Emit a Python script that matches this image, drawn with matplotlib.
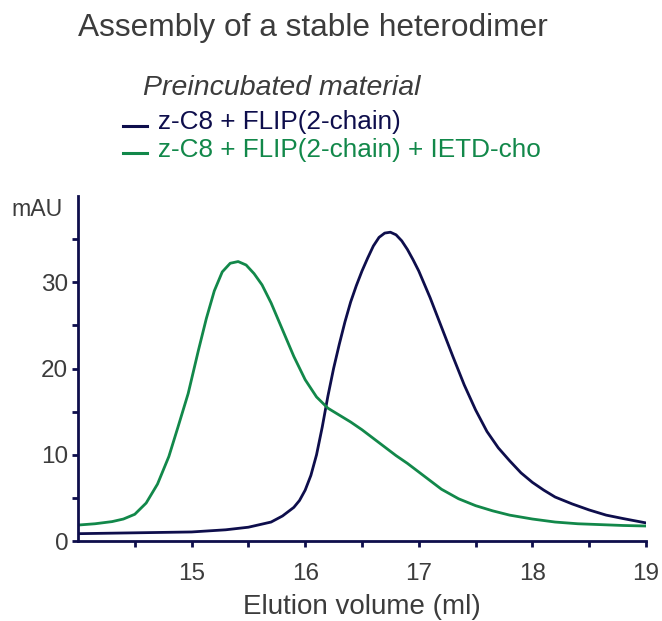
import matplotlib.pyplot as plt
import numpy as np

plt.rcParams['font.family'] = ['Liberation Sans', 'DejaVu Sans']

# elution volume (ml) / absorbance (mAU)
navy_x = [14.0, 14.5, 15.0, 15.3, 15.5, 15.7, 15.8, 15.9, 15.95, 16.0, 16.05, 16.1, 16.15,
          16.2, 16.25, 16.3, 16.35, 16.4, 16.45, 16.5, 16.55, 16.6, 16.65, 16.7, 16.75,
          16.8, 16.85, 16.9, 16.95, 17.0, 17.1, 17.2, 17.3, 17.4, 17.5, 17.6, 17.7,
          17.8, 17.9, 18.0, 18.1, 18.2, 18.35, 18.5, 18.65, 18.8, 19.0]
navy_y = [0.85, 0.95, 1.05, 1.3, 1.6, 2.2, 2.9, 3.9, 4.7, 5.9, 7.6, 10.0, 13.2,
          16.8, 20.0, 22.8, 25.4, 27.7, 29.6, 31.3, 32.8, 34.2, 35.2, 35.7, 35.8,
          35.5, 34.8, 33.8, 32.6, 31.3, 28.2, 24.8, 21.4, 18.1, 15.2, 12.7, 10.8,
          9.3, 7.9, 6.8, 5.9, 5.1, 4.3, 3.6, 3.0, 2.6, 2.1]

green_x = [14.0, 14.15, 14.3, 14.4, 14.5, 14.6, 14.7, 14.8, 14.88, 14.97, 15.06, 15.13,
           15.2, 15.27, 15.34, 15.41, 15.48, 15.55, 15.62, 15.7, 15.8, 15.9, 16.0, 16.1,
           16.2, 16.3, 16.4, 16.5, 16.6, 16.7, 16.8, 16.9, 17.0, 17.1, 17.2, 17.35,
           17.5, 17.65, 17.8, 18.0, 18.2, 18.4, 18.6, 18.8, 19.0]
green_y = [1.85, 2.0, 2.25, 2.55, 3.1, 4.4, 6.6, 9.8, 13.2, 17.1, 22.1, 25.8,
           29.0, 31.2, 32.2, 32.4, 32.0, 31.0, 29.7, 27.6, 24.5, 21.4, 18.7, 16.7,
           15.4, 14.6, 13.8, 12.9, 11.9, 10.9, 9.9, 9.0, 8.0, 7.0, 6.0, 4.9,
           4.1, 3.5, 3.0, 2.55, 2.2, 2.0, 1.9, 1.8, 1.74]

navy = '#0e0e4c'
green = '#12884a'
grey = '#3c3c3c'

fig = plt.figure(figsize=(6.62, 6.21), dpi=100)
ax = fig.add_axes((0.1178, 0.1288, 0.858, 0.5556))

ax.plot(navy_x, navy_y, color=navy, lw=2.0)
ax.plot(green_x, green_y, color=green, lw=2.0)

ax.set_xlim(14, 19)
ax.set_ylim(0, 40)
ax.set_xticks([15, 16, 17, 18, 19])
ax.set_xticks(np.arange(14.5, 19, 0.5), minor=True)
ax.set_yticks([0, 10, 20, 30])
ax.set_yticks([5, 15, 25, 35], minor=True)
for s in ['top', 'right']:
    ax.spines[s].set_visible(False)
for s in ['left', 'bottom']:
    ax.spines[s].set_color(navy)
    ax.spines[s].set_linewidth(2)
ax.tick_params(which='both', length=4, width=2, color=navy, labelsize=17.5, labelcolor=grey)
ax.tick_params(axis='x', pad=12)
ax.tick_params(axis='y', pad=3)

ax.set_xlabel('Elution volume (ml)', fontsize=20, color=grey, labelpad=6)
fig.text(0.094, 0.662, 'mAU', fontsize=16.7, color=grey, ha='right', va='center')

fig.text(0.118, 0.955, 'Assembly of a stable heterodimer', fontsize=22.8, color=grey, va='center')
fig.text(0.216, 0.858, 'Preincubated material', fontsize=20.5, color=grey, style='italic', va='center')
fig.text(0.239, 0.804, 'z-C8 + FLIP(2-chain)', fontsize=18.8, color=navy, va='center')
fig.text(0.239, 0.758, 'z-C8 + FLIP(2-chain) + IETD-cho', fontsize=18.8, color=green, va='center')
fig.add_artist(plt.Line2D([0.186, 0.222], [0.797, 0.797], color=navy, lw=2.2))
fig.add_artist(plt.Line2D([0.186, 0.222], [0.753, 0.753], color=green, lw=2.2))

plt.savefig('out.png', dpi=100)
